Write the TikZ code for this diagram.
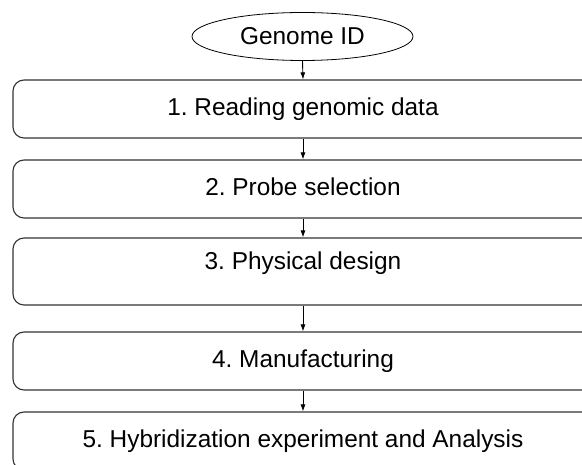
\documentclass[tikz,border=0pt]{standalone}
\usepackage{fontspec}
\setmainfont{Liberation Sans}
\usetikzlibrary{shapes.geometric,arrows.meta}
\frenchspacing
\begin{document}
\frenchspacing
\begin{tikzpicture}[x=1pt,y=-1pt,
  stepbox/.style={draw=black!80, line width=1.1pt, rounded corners=11pt,
    minimum width=580pt, minimum height=58pt, inner sep=0pt,
    text height=17.5pt, text depth=5pt,
    font=\fontsize{24.4}{29}\selectfont},
  startnode/.style={draw, ellipse, line width=0.8pt, minimum width=221pt,
    minimum height=48pt, inner sep=0pt,
    font=\fontsize{24.4}{29}\selectfont},
  flow/.style={line width=0.9pt, -{Latex[length=7pt,width=5pt]}}]
\useasboundingbox (0,0) rectangle (582,465);
\clip (0,0) rectangle (582,465);
\fill[white] (0,0) rectangle (582,465);
\node[startnode] (g) at (302.5,36.5) {Genome ID};
\node[stepbox] (s1) at (303,109) {1. Reading genomic data};
\node[stepbox] (s2) at (303,189) {2. Probe selection};
\node[stepbox, minimum height=67pt, text depth=22pt] (s3) at (303,271.5) {3. Physical design};
\node[stepbox] (s4) at (303,361) {4. Manufacturing};
\node[stepbox] (s5) at (303,441) {5. Hybridization experiment and Analysis};
\draw[flow] (g.south) -- (s1.north);
\draw[flow] (s1.south) -- (s2.north);
\draw[flow] (s2.south) -- (s3.north);
\draw[flow] (s3.south) -- (s4.north);
\draw[flow] (s4.south) -- (s5.north);
\end{tikzpicture}
\end{document}
